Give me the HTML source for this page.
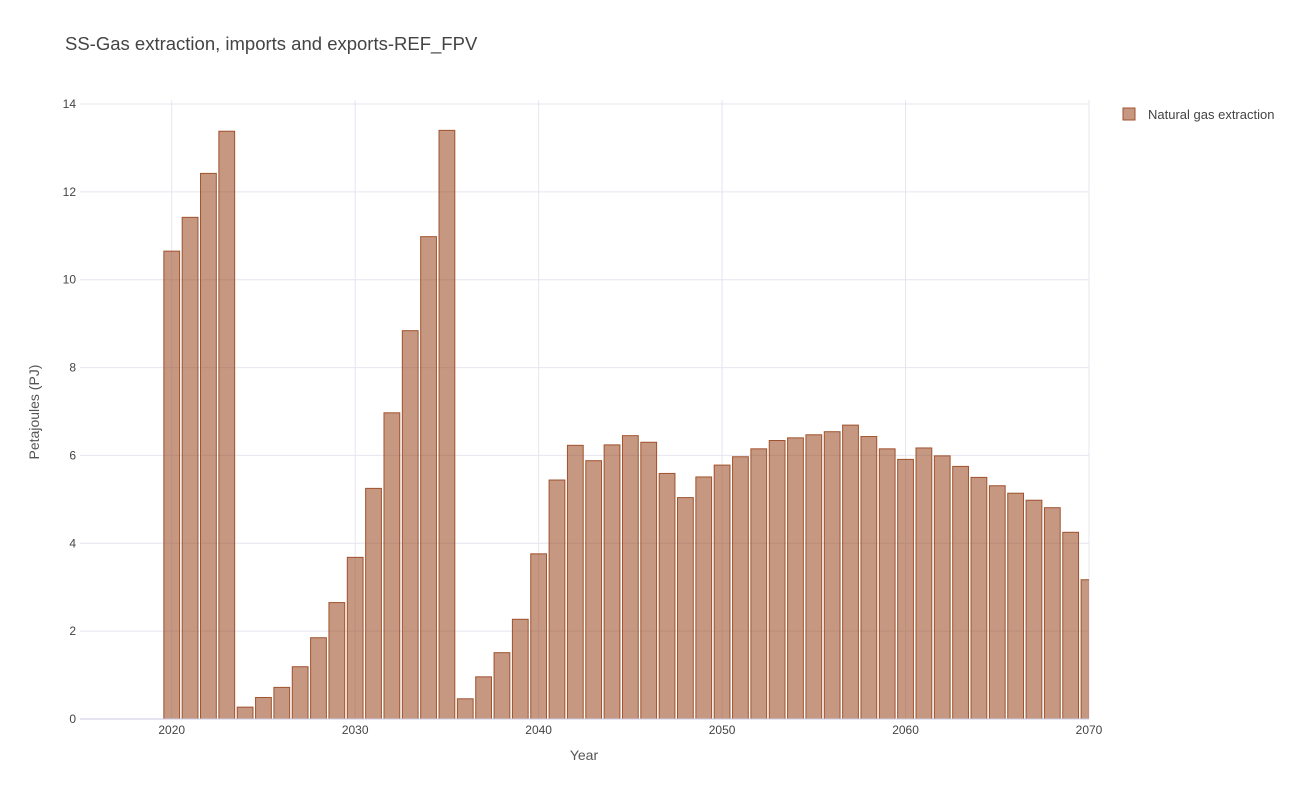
<!DOCTYPE html>
<html><head><meta charset="utf-8">
<style>
html,body{margin:0;padding:0;background:#fff;}
svg{display:block;font-family:"Liberation Sans",Arial,sans-serif;}
</style></head>
<body>
<svg id="chart" width="1300" height="800">
  <text x="65" y="50" font-size="18.5" fill="#444">SS-Gas extraction, imports and exports-REF_FPV</text>
  <g id="grid"></g>
  <g id="bars"></g>
  <g id="axes"></g>
  <text x="584" y="760" font-size="14" fill="#555" text-anchor="middle">Year</text>
  <text transform="translate(39,412) rotate(-90)" font-size="14" fill="#555" text-anchor="middle">Petajoules (PJ)</text>
  <g>
    <rect x="1123" y="108" width="12" height="12" fill="rgba(160,82,45,0.6)" stroke="#a0522d" stroke-width="1"></rect>
    <text x="1148" y="119" font-size="13" fill="#444">Natural gas extraction</text>
  </g>
</svg>
<script>
const years = [2020,2021,2022,2023,2024,2025,2026,2027,2028,2029,2030,2031,2032,2033,2034,2035,2036,2037,2038,2039,2040,2041,2042,2043,2044,2045,2046,2047,2048,2049,2050,2051,2052,2053,2054,2055,2056,2057,2058,2059,2060,2061,2062,2063,2064,2065,2066,2067,2068,2069,2070];
const gasExtraction = [10.65,11.42,12.42,13.38,0.27,0.49,0.72,1.19,1.85,2.65,3.68,5.25,6.97,8.84,10.98,13.4,0.46,0.96,1.51,2.27,3.76,5.44,6.23,5.88,6.24,6.45,6.3,5.59,5.04,5.51,5.78,5.97,6.15,6.34,6.4,6.47,6.54,6.69,6.43,6.15,5.91,6.17,5.99,5.75,5.5,5.31,5.14,4.98,4.81,4.25,3.17];
const xTicks = [2020,2030,2040,2050,2060,2070];
const yTicks = [0,2,4,6,8,10,12,14];

const L=80,R=1089,T=104,B=719, xmin=2015,xmax=2070, ymax=14;
const xs = v => L + (v-xmin)/(xmax-xmin)*(R-L);
const ys = v => B - v/ymax*(B-T);
const NS="http://www.w3.org/2000/svg";
const grid=document.getElementById('grid'), bars=document.getElementById('bars'), axes=document.getElementById('axes');
function mk(tag,attrs,parent){const e=document.createElementNS(NS,tag);for(const k in attrs)e.setAttribute(k,attrs[k]);parent.appendChild(e);return e;}

yTicks.forEach(t=>{
  if(t>0){const g=mk('line',{x1:L,x2:R,y1:ys(t),y2:ys(t),stroke:'#e4e6ef','stroke-width':1},grid);
  
  }
  const tx=mk('text',{x:L-4,y:ys(t)+4,'font-size':12,fill:'#444','text-anchor':'end'},axes);
  tx.textContent=t;
  
  
});
xTicks.forEach(t=>{
  const g=mk('line',{x1:xs(t),x2:xs(t),y1:100,y2:B,stroke:'#e4e6ef','stroke-width':1},grid);
  
  
  const tx=mk('text',{x:xs(t),y:B+15,'font-size':12,fill:'#444','text-anchor':'middle'},axes);
  tx.textContent=t;
  
  
});
const zl=mk('line',{x1:L,x2:R,y1:B,y2:B,stroke:'#c8cbe0','stroke-width':1},axes);



const bw=(R-L)/(xmax-xmin)*0.86;
const clip=mk('clipPath',{id:'pc'},mk('defs',{},bars));
mk('rect',{x:L,y:T-10,width:R-L,height:B-T+10},clip);
bars.setAttribute('clip-path','url(#pc)');
years.forEach((y,i)=>{
  const v=gasExtraction[i];
  const r=mk('rect',{x:xs(y)-bw/2,y:ys(v),width:bw,height:B-ys(v),fill:'rgba(160,82,45,0.6)',stroke:'#a0522d','stroke-width':1},bars);
  
  
});
</script>
</body></html>
